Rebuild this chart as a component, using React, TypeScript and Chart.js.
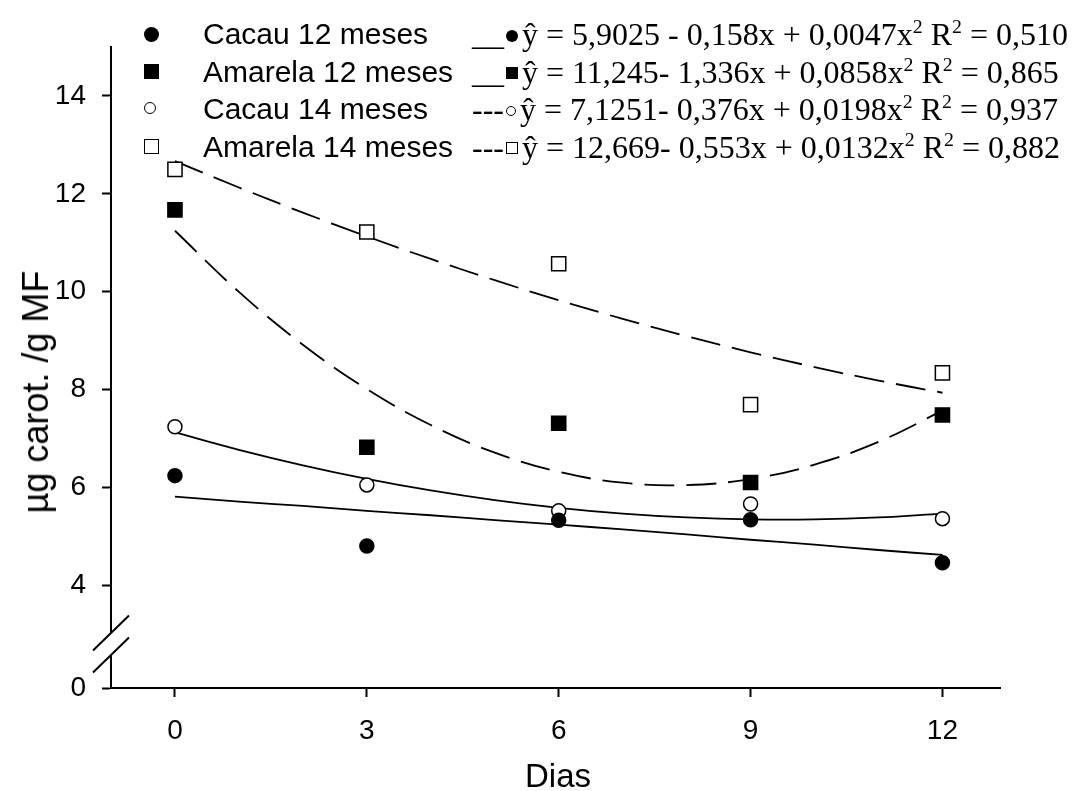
import React, { useEffect, useRef } from 'react';
import { Chart, registerables } from 'chart.js';

Chart.register(...registerables);

// ---- data ----
const days = [0, 3, 6, 9, 12];
const cacau12 = [6.24, 4.8, 5.33, 5.34, 4.46];
const amarela12 = [11.67, 6.82, 7.31, 6.1, 7.48];
const cacau14 = [7.24, 6.05, 5.52, 5.66, 5.36];
const amarela14 = [12.5, 11.22, 10.57, 7.69, 8.34];

// fitted curves at each day
const fitDays = [0, 1, 2, 3, 4, 5, 6, 7, 8, 9, 10, 11, 12];
const fitCacau12 = [5.81, 5.71, 5.62, 5.52, 5.43, 5.33, 5.24, 5.14, 5.04, 4.93, 4.83, 4.72, 4.62];
const fitAmarela12 = [11.245, 9.995, 8.916, 8.009, 7.274, 6.71, 6.318, 6.097, 6.048, 6.171, 6.465, 6.931, 7.568];
const fitCacau14 = [7.125, 6.769, 6.452, 6.175, 5.938, 5.74, 5.582, 5.463, 5.385, 5.345, 5.345, 5.385, 5.464];
const fitAmarela14 = [12.669, 12.129, 11.616, 11.129, 10.668, 10.234, 9.826, 9.445, 9.09, 8.761, 8.459, 8.183, 7.934];

const xTicks = [0, 3, 6, 9, 12];
const yTicks = [4, 6, 8, 10, 12, 14];
const yBreakLabel = '0';
const X_MIN = -1;
const X_MAX = 12.9;
const Y_MIN = 1.9;
const Y_MAX = 15;

const xTitle = 'Dias';
const yTitle = 'µg carot. /g MF';

const seriesNames = ['Cacau 12 meses', 'Amarela 12 meses', 'Cacau 14 meses', 'Amarela 14 meses'];
const eqPrefixes = ['__', '__', '---', '---'];
const eqBodies = [
  'ŷ = 5,9025 - 0,158x + 0,0047x',
  'ŷ = 11,245- 1,336x + 0,0858x',
  'ŷ = 7,1251- 0,376x + 0,0198x',
  'ŷ = 12,669- 0,553x + 0,0132x',
];
const eqR2 = ['0,510', '0,865', '0,937', '0,882'];

type MarkerKind = 'fcircle' | 'fsquare' | 'ocircle' | 'osquare';
const markerKinds: MarkerKind[] = ['fcircle', 'fsquare', 'ocircle', 'osquare'];

const toXY = (xs: number[], ys: number[]) => xs.map((x, i) => ({ x, y: ys[i] }));

const axisBreak = {
  id: 'axisBreak',
  afterDraw(chart: any) {
    const { ctx, chartArea } = chart;
    const x0 = chartArea.left;
    const b = chartArea.bottom;
    const c1 = b - 55;
    const c2 = b - 33;
    ctx.save();
    ctx.fillStyle = '#fff';
    ctx.fillRect(x0 - 3, c1, 6, c2 - c1);
    ctx.strokeStyle = '#000';
    ctx.lineWidth = 2;
    [c1, c2].forEach((cy) => {
      ctx.beginPath();
      ctx.moveTo(x0 - 18, cy + 17.5);
      ctx.lineTo(x0 + 18, cy - 17.5);
      ctx.stroke();
    });
    ctx.restore();
  },
};

function Marker({ kind, size }: { kind: MarkerKind; size: number }) {
  const base: React.CSSProperties = {
    width: size,
    height: size,
    boxSizing: 'border-box',
    display: 'inline-block',
  };
  if (kind === 'fcircle') return <span style={{ ...base, background: '#000', borderRadius: '50%' }} />;
  if (kind === 'fsquare') return <span style={{ ...base, background: '#000' }} />;
  if (kind === 'ocircle')
    return <span style={{ ...base, width: size - 2, height: size - 2, border: '1.5px solid #000', borderRadius: '50%', background: '#fff' }} />;
  return <span style={{ ...base, border: '1.5px solid #000', background: '#fff' }} />;
}

export default function App() {
  const canvasRef = useRef<HTMLCanvasElement | null>(null);

  useEffect(() => {
    const canvas = canvasRef.current;
    if (!canvas) return;
    const lineBase = {
      type: 'line' as const,
      pointRadius: 0,
      borderColor: '#000',
      borderWidth: 1.8,
      tension: 0.4,
      fill: false,
      order: 2,
    };
    const pointBase = {
      type: 'line' as const,
      showLine: false,
      borderColor: '#000',
      pointBorderColor: '#000',
      pointBorderWidth: 1.5,
      order: 1,
    };
    const chart = new Chart(canvas, {
      type: 'line',
      data: {
        datasets: [
          { ...lineBase, label: 'fit Cacau 12', data: toXY(fitDays, fitCacau12) },
          { ...lineBase, label: 'fit Cacau 14', data: toXY(fitDays, fitCacau14) },
          { ...lineBase, label: 'fit Amarela 12', data: toXY(fitDays, fitAmarela12), borderDash: [30, 12] },
          { ...lineBase, label: 'fit Amarela 14', data: toXY(fitDays, fitAmarela14), borderDash: [30, 12] },
          { ...pointBase, label: seriesNames[0], data: toXY(days, cacau12), pointStyle: 'circle', pointRadius: 7, pointBackgroundColor: '#000' },
          { ...pointBase, label: seriesNames[1], data: toXY(days, amarela12), pointStyle: 'rect', pointRadius: 10, pointBackgroundColor: '#000' },
          { ...pointBase, label: seriesNames[2], data: toXY(days, cacau14), pointStyle: 'circle', pointRadius: 7, pointBackgroundColor: '#fff' },
          { ...pointBase, label: seriesNames[3], data: toXY(days, amarela14), pointStyle: 'rect', pointRadius: 10, pointBackgroundColor: '#fff' },
        ] as any,
      },
      options: {
        animation: false,
        responsive: false,
        devicePixelRatio: 1,
        layout: { padding: { left: 0, top: 47, right: 75, bottom: 0 } },
        plugins: { legend: { display: false }, tooltip: { enabled: false } },
        scales: {
          x: {
            type: 'linear',
            min: X_MIN,
            max: X_MAX,
            afterBuildTicks: (s: any) => {
              s.ticks = xTicks.map((v) => ({ value: v }));
            },
            afterFit: (s: any) => {
              s.height = 103;
            },
            grid: { display: true, drawOnChartArea: false, drawTicks: true, tickLength: 9, tickWidth: 2, tickColor: '#000', color: '#000' },
            border: { display: true, color: '#000', width: 2 },
            ticks: {
              color: '#000',
              padding: 17,
              font: { family: 'Liberation Sans, Arial, sans-serif', size: 28 },
              callback: (v: any) => String(v),
            },
          },
          y: {
            type: 'linear',
            min: Y_MIN,
            max: Y_MAX,
            afterBuildTicks: (s: any) => {
              s.ticks = [{ value: Y_MIN }, ...yTicks.map((v) => ({ value: v }))];
            },
            afterFit: (s: any) => {
              s.width = 111;
            },
            grid: { display: true, drawOnChartArea: false, drawTicks: true, tickLength: 9, tickWidth: 2, tickColor: '#000', color: '#000' },
            border: { display: true, color: '#000', width: 2 },
            ticks: {
              color: '#000',
              padding: 16,
              font: { family: 'Liberation Sans, Arial, sans-serif', size: 28 },
              callback: (v: any) => (v === Y_MIN ? yBreakLabel : String(v)),
            },
          },
        },
      } as any,
      plugins: [axisBreak],
    });
    return () => chart.destroy();
  }, []);

  const rowCenter = (i: number) => 34 + i * 37.6;
  const legFs = 30;
  const eqFs = 32;

  return (
    <div style={{ position: 'fixed', left: 0, top: 0, width: 1075, height: 791, background: '#fff', overflow: 'hidden' }}>
      <canvas ref={canvasRef} width={1075} height={791} style={{ position: 'absolute', left: 0, top: 0, width: 1075, height: 791 }} />
      {seriesNames.map((name, i) => {
        const cy = rowCenter(i);
        const ms = markerKinds[i] === 'ocircle' ? 14 : 15;
        return (
          <React.Fragment key={name}>
            <div style={{ position: 'absolute', left: 151 - ms / 2, top: cy - ms / 2, width: ms, height: ms, lineHeight: 0 }}>
              <Marker kind={markerKinds[i]} size={ms} />
            </div>
            <div
              style={{
                position: 'absolute',
                left: 203,
                top: cy - legFs / 2,
                fontFamily: 'Liberation Sans, Arial, sans-serif',
                fontSize: legFs,
                lineHeight: `${legFs}px`,
                whiteSpace: 'nowrap',
                color: '#000',
              }}
            >
              {name}
            </div>
            <div
              style={{
                position: 'absolute',
                left: 472,
                top: cy - eqFs / 2,
                fontFamily: 'Liberation Serif, "Times New Roman", serif',
                fontSize: eqFs,
                lineHeight: `${eqFs}px`,
                whiteSpace: 'nowrap',
                color: '#000',
              }}
            >
              {eqPrefixes[i]}
              <span style={{ display: 'inline-block', verticalAlign: 'middle', lineHeight: 0, marginTop: -4, marginLeft: 2, marginRight: 4 }}>
                <Marker kind={markerKinds[i]} size={12} />
              </span>
              {eqBodies[i]}
              <span style={{ fontSize: '0.62em', verticalAlign: 'super', lineHeight: 0 }}>2</span>
              {' R'}
              <span style={{ fontSize: '0.62em', verticalAlign: 'super', lineHeight: 0 }}>2</span>
              {' = ' + eqR2[i]}
            </div>
          </React.Fragment>
        );
      })}
      <div
        style={{
          position: 'absolute',
          left: 558,
          top: 775,
          transform: 'translate(-50%, -50%)',
          fontFamily: 'Liberation Sans, Arial, sans-serif',
          fontSize: 33,
          lineHeight: '33px',
          whiteSpace: 'nowrap',
          color: '#000',
        }}
      >
        {xTitle}
      </div>
      <div
        style={{
          position: 'absolute',
          left: 36,
          top: 392,
          transform: 'translate(-50%, -50%) rotate(-90deg)',
          fontFamily: 'Liberation Sans, Arial, sans-serif',
          fontSize: 36,
          lineHeight: '36px',
          whiteSpace: 'nowrap',
          color: '#000',
        }}
      >
        {yTitle}
      </div>
    </div>
  );
}
